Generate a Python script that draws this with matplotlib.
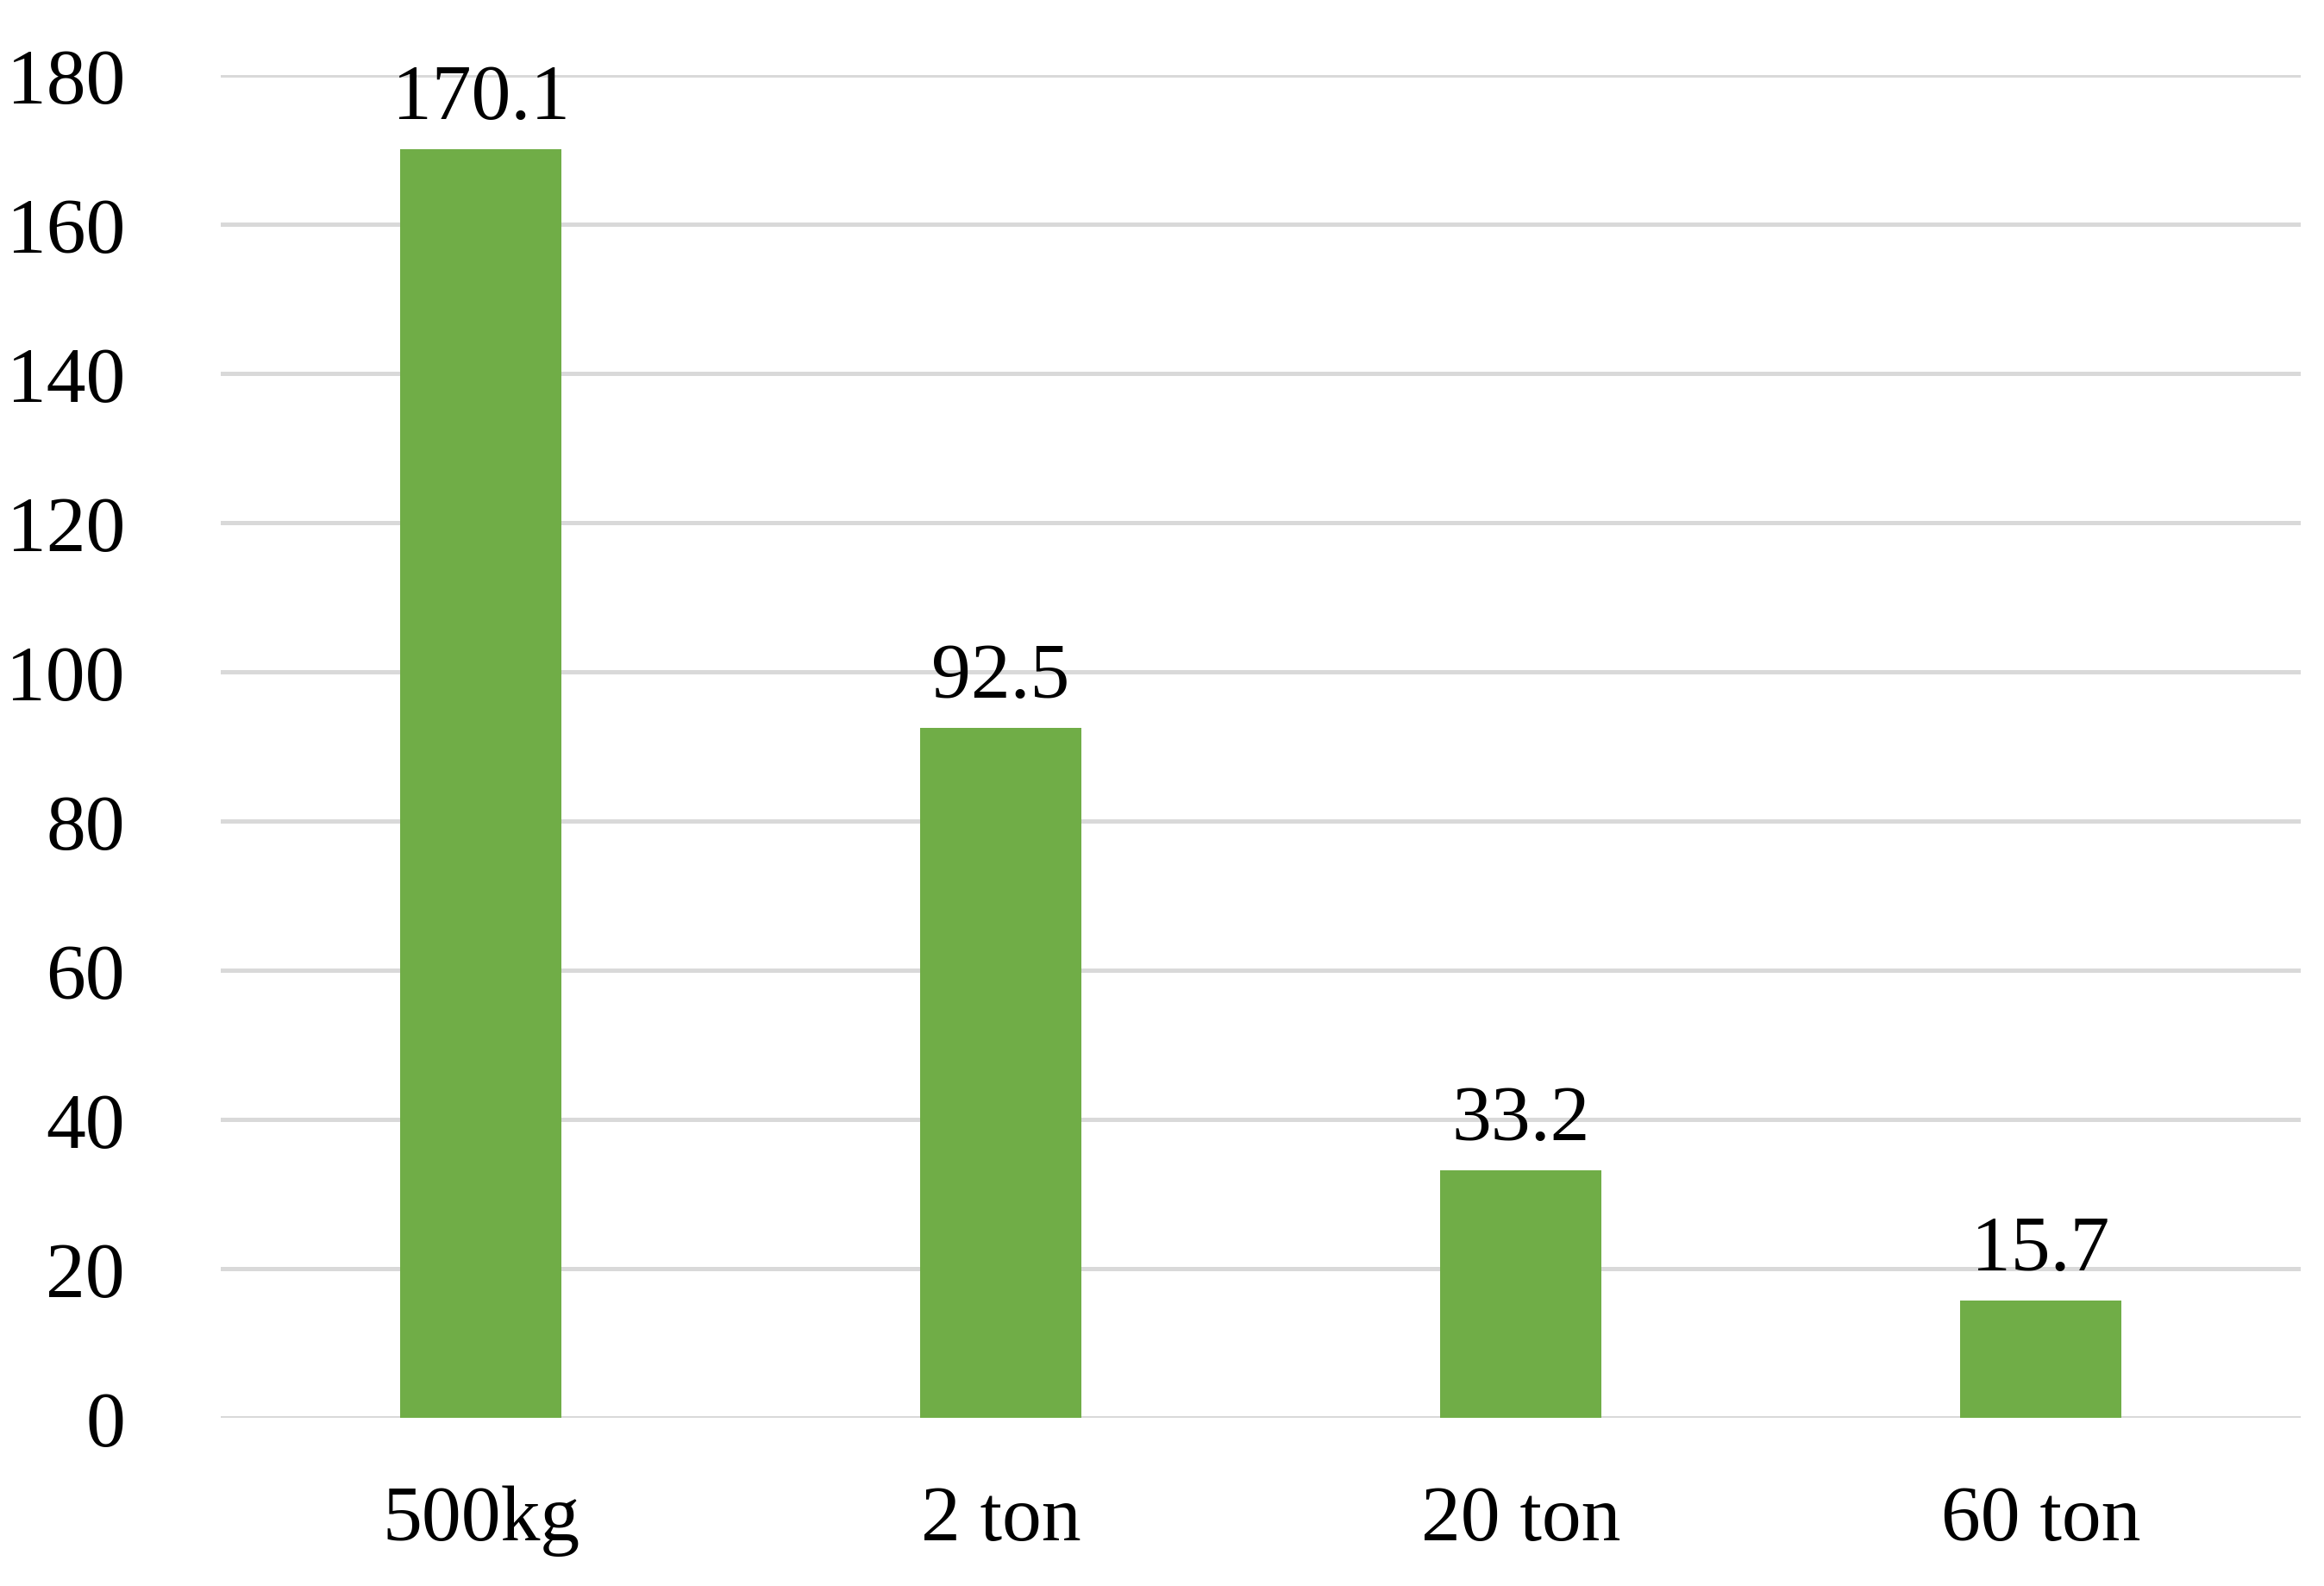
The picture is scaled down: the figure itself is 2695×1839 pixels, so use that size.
import matplotlib
matplotlib.use("Agg")
import matplotlib.pyplot as plt

categories = ["500kg", "2 ton", "20 ton", "60 ton"]
values = [170.1, 92.5, 33.2, 15.7]
yticks = [0, 20, 40, 60, 80, 100, 120, 140, 160, 180]

plt.rcParams['font.family'] = ['Liberation Serif', 'DejaVu Serif']
fig = plt.figure(figsize=(13.475, 9.2), dpi=200)
ax = fig.add_axes([0.095, 0.106, 0.895, 0.846])
x = range(len(categories))
bars = ax.bar(x, values, width=0.31, color="#70AD47", zorder=3)
for xi, v in zip(x, values):
    ax.text(xi, v + 2, f"{v}", ha="center", va="bottom", fontsize=33)
ax.set_xlim(-0.5, 3.5)
ax.set_ylim(0, 180)
ax.set_yticks(yticks)
ax.set_xticks(list(x))
ax.set_xticklabels(categories)
ax.tick_params(axis='both', length=0, labelsize=33)
ax.tick_params(axis='x', pad=28)
ax.tick_params(axis='y', pad=40)
ax.grid(axis='y', color="#d9d9d9", linewidth=1.8, zorder=0)
for s in ax.spines.values():
    s.set_visible(False)
ax.axhline(0, color="#d9d9d9", linewidth=1.8, zorder=2)
fig.savefig("out.png")
